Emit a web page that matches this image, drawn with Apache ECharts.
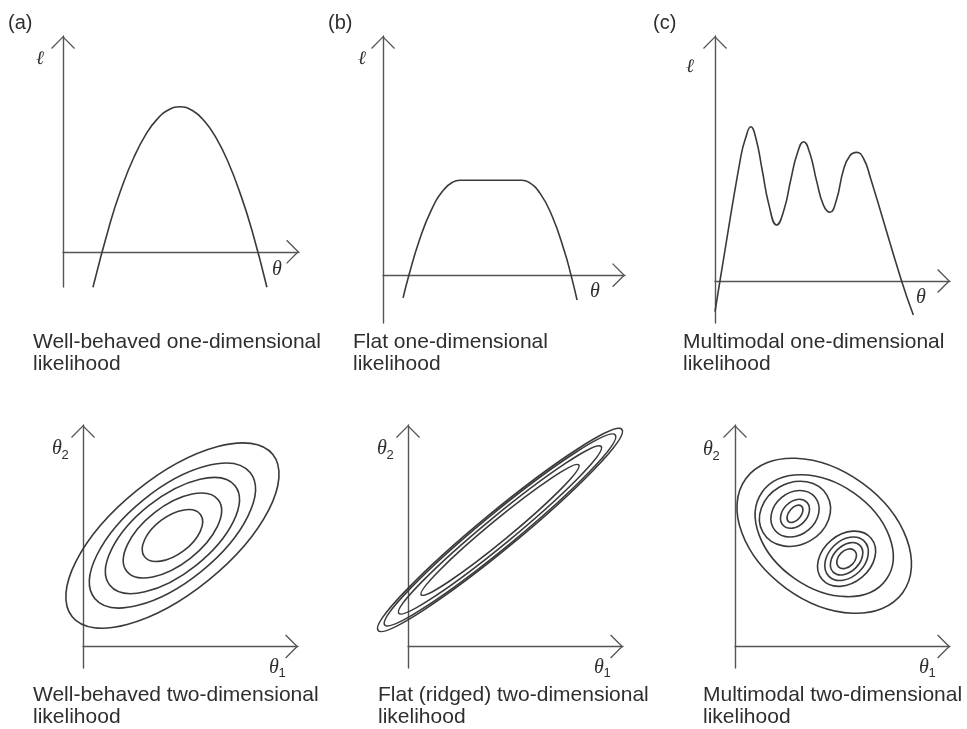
<!DOCTYPE html>
<html>
<head>
<meta charset="utf-8">
<title>Likelihood shapes</title>
<script src="https://cdn.jsdelivr.net/npm/echarts@6/dist/echarts.min.js"></script>
<style>
  html, body { margin: 0; padding: 0; background: #fff; }
  #chart { width: 967px; height: 729px; }
</style>
</head>
<body>
<div id="chart"></div>
<script>
// ---- one-dimensional likelihood profiles: [theta, ell] ----
const wellBehaved1D = [
  [1.27, -1.41], [2.0, 1.16], [2.5, 2.59], [3.0, 3.76], [3.5, 4.66], [4.0, 5.30],
  [4.5, 5.67], [4.95, 5.78], [5.5, 5.62], [6.0, 5.20], [6.5, 4.52], [7.0, 3.57],
  [7.5, 2.35], [8.0, 0.88], [8.64, -1.41]
];
const flat1D = [
  [0.83, -0.95], [1.07, 0], [1.5, 1.45], [2.0, 2.73], [2.5, 3.56], [2.9, 3.90],
  [3.18, 3.97], [4.46, 3.97], [5.74, 3.97], [6.0, 3.90], [6.5, 3.41], [7.0, 2.44],
  [7.5, 0.99], [7.77, 0], [8.02, -1.04]
];
const multimodal1D = [
  [0.0, -2.19], [0.21, 0], [1.10, 8.9], [1.30, 10.2], [1.52, 11.02], [1.74, 10.2],
  [2.0, 8.0], [2.3, 5.4], [2.62, 4.0], [2.94, 5.1], [3.22, 7.2], [3.50, 9.1],
  [3.77, 9.95], [4.04, 9.1], [4.33, 7.1], [4.62, 5.4], [4.89, 4.91], [5.17, 5.8],
  [5.46, 7.9], [5.74, 8.95], [6.03, 9.19], [6.32, 8.75], [6.60, 7.45],
  [7.94, 0], [8.44, -2.43]
];

// ---- two-dimensional contours: [centre θ1, centre θ2, semi-major, semi-minor, tilt (deg)] ----
const wellBehaved2D = [
  [4.16, 5.16, 6.00, 2.67, 39],
  [4.16, 5.16, 4.65, 2.14, 39],
  [4.16, 5.16, 3.72, 1.77, 38.5],
  [4.16, 5.16, 2.70, 1.35, 38],
  [4.16, 5.16, 1.63, 0.88, 37]
];
const ridged2D = [
  [4.28, 5.42, 7.35, 0.86, 39.5],
  [4.28, 5.42, 6.95, 0.79, 39.5],
  [4.28, 5.42, 6.10, 0.64, 39.5],
  [4.28, 5.42, 4.75, 0.48, 39.5]
];
const multimodal2D = [
  [4.15, 5.15, 4.51, 3.02, -36],
  [4.15, 5.15, 3.53, 2.42, -35],
  [2.79, 6.17, 1.72, 1.44, 30],
  [2.79, 6.17, 1.21, 0.98, 40],
  [2.79, 6.17, 0.77, 0.56, 45],
  [2.79, 6.17, 0.47, 0.28, 50],
  [5.19, 4.08, 1.49, 1.12, 40],
  [5.19, 4.08, 1.16, 0.84, 45],
  [5.19, 4.08, 0.88, 0.60, 45],
  [5.19, 4.08, 0.53, 0.37, 45]
];

// ---- text ----
const panelTags = ['(a)', '(b)', '(c)'];
const captions1D = [
  ['Well-behaved one-dimensional', 'likelihood'],
  ['Flat one-dimensional', 'likelihood'],
  ['Multimodal one-dimensional', 'likelihood']
];
const captions2D = [
  ['Well-behaved two-dimensional', 'likelihood'],
  ['Flat (ridged) two-dimensional', 'likelihood'],
  ['Multimodal two-dimensional', 'likelihood']
];

const INK = '#3a3a3a';
const AXIS = '#555';
const TEXT = '#2e2e2e';
const SANS = '"Liberation Sans", Arial, Helvetica, sans-serif';
const SERIF = '"Liberation Serif", "DejaVu Serif", serif';

// open chevron arrow head, pointing up (rotated by the axis)
const ARROW = 'path://M0,12 L12,0 L24,12 L23.05,12.95 L12,1.9 L0.95,12.95 Z';

const grids = [
  { left: 63,  top: 36,  width: 236, height: 251, ymin: -1.4, ymax: 8.6 },
  { left: 383, top: 36,  width: 242, height: 287, ymin: -2,   ymax: 10 },
  { left: 715, top: 36,  width: 235, height: 287, ymin: -3,   ymax: 17.5 },
  { left: 83,  top: 425, width: 215, height: 243, ymin: -1,   ymax: 10.3 },
  { left: 408, top: 425, width: 215, height: 243, ymin: -1,   ymax: 10.3 },
  { left: 735, top: 425, width: 215, height: 243, ymin: -1,   ymax: 10.3 }
];

function axisLine() {
  return {
    show: true,
    onZero: true,
    symbol: ['none', ARROW],
    symbolSize: [24, 12.95],
    symbolOffset: [0, -6.4],
    lineStyle: { color: AXIS, width: 1.4 }
  };
}

const xAxes = grids.map((g, i) => ({
  gridIndex: i, type: 'value', min: 0, max: 10,
  axisLine: axisLine(), axisTick: { show: false },
  axisLabel: { show: false }, splitLine: { show: false }
}));
const yAxes = grids.map((g, i) => ({
  gridIndex: i, type: 'value', min: g.ymin, max: g.ymax,
  axisLine: axisLine(), axisTick: { show: false },
  axisLabel: { show: false }, splitLine: { show: false }
}));

function curve(data, i) {
  return {
    type: 'line', xAxisIndex: i, yAxisIndex: i, data: data,
    smooth: true, showSymbol: false, clip: false, silent: true,
    lineStyle: { color: INK, width: 1.6 }
  };
}

function renderContour(params, api) {
  const c = api.coord([api.value(0), api.value(1)]);
  const s = api.size([api.value(2), api.value(3)]);
  return {
    type: 'ellipse',
    x: c[0], y: c[1],
    rotation: api.value(4) * Math.PI / 180,
    shape: { cx: 0, cy: 0, rx: s[0], ry: s[1] },
    style: { fill: 'none', stroke: INK, lineWidth: 1.6 }
  };
}

function contours(data, i) {
  return {
    type: 'custom', xAxisIndex: i, yAxisIndex: i, data: data,
    renderItem: renderContour, clip: false, silent: true
  };
}

// ---- text placement ----
function txt(str, x, y, font, align) {
  return {
    type: 'text', x: x, y: y, silent: true,
    style: { text: str, font: font, fill: TEXT, align: align || 'left', verticalAlign: 'middle' }
  };
}
const graphics = [];
const tagX = [8, 328, 653];
panelTags.forEach((t, i) => graphics.push(txt(t, tagX[i], 23, '20px ' + SANS)));

const cap1X = [33, 353, 683];
captions1D.forEach((c, i) => {
  graphics.push(txt(c[0], cap1X[i], 342, '21px ' + SANS));
  graphics.push(txt(c[1], cap1X[i], 364, '21px ' + SANS));
});
const cap2X = [33, 378, 703];
captions2D.forEach((c, i) => {
  graphics.push(txt(c[0], cap2X[i], 695, '21px ' + SANS));
  graphics.push(txt(c[1], cap2X[i], 717, '21px ' + SANS));
});

// ℓ and θ on the one-dimensional panels
const ellPos = [[40, 59], [362, 59], [690, 67]];
const thetaPos = [[277, 270], [595, 292], [921, 298]];
ellPos.forEach(p => graphics.push(txt('ℓ', p[0], p[1], 'italic 19px ' + SERIF, 'center')));
thetaPos.forEach(p => graphics.push(txt('θ', p[0], p[1], 'italic 20px ' + SERIF, 'center')));

// θ2 / θ1 on the two-dimensional panels
const theta2Pos = [[57, 449], [382, 449], [708, 450]];
const theta1Pos = [[274, 668], [599, 668], [924, 668]];
theta2Pos.forEach(p => {
  graphics.push(txt('θ', p[0], p[1], 'italic 20px ' + SERIF, 'center'));
  graphics.push(txt('2', p[0] + 8, p[1] + 6, '13px ' + SANS, 'center'));
});
theta1Pos.forEach(p => {
  graphics.push(txt('θ', p[0], p[1], 'italic 20px ' + SERIF, 'center'));
  graphics.push(txt('1', p[0] + 8, p[1] + 5, '13px ' + SANS, 'center'));
});

const chart = echarts.init(document.getElementById('chart'), null, { renderer: 'canvas' });
chart.setOption({
  animation: false,
  backgroundColor: '#fff',
  grid: grids.map(g => ({ left: g.left, top: g.top, width: g.width, height: g.height, containLabel: false })),
  xAxis: xAxes,
  yAxis: yAxes,
  series: [
    curve(wellBehaved1D, 0),
    curve(flat1D, 1),
    curve(multimodal1D, 2),
    contours(wellBehaved2D, 3),
    contours(ridged2D, 4),
    contours(multimodal2D, 5)
  ],
  graphic: graphics
});
</script>
</body>
</html>
